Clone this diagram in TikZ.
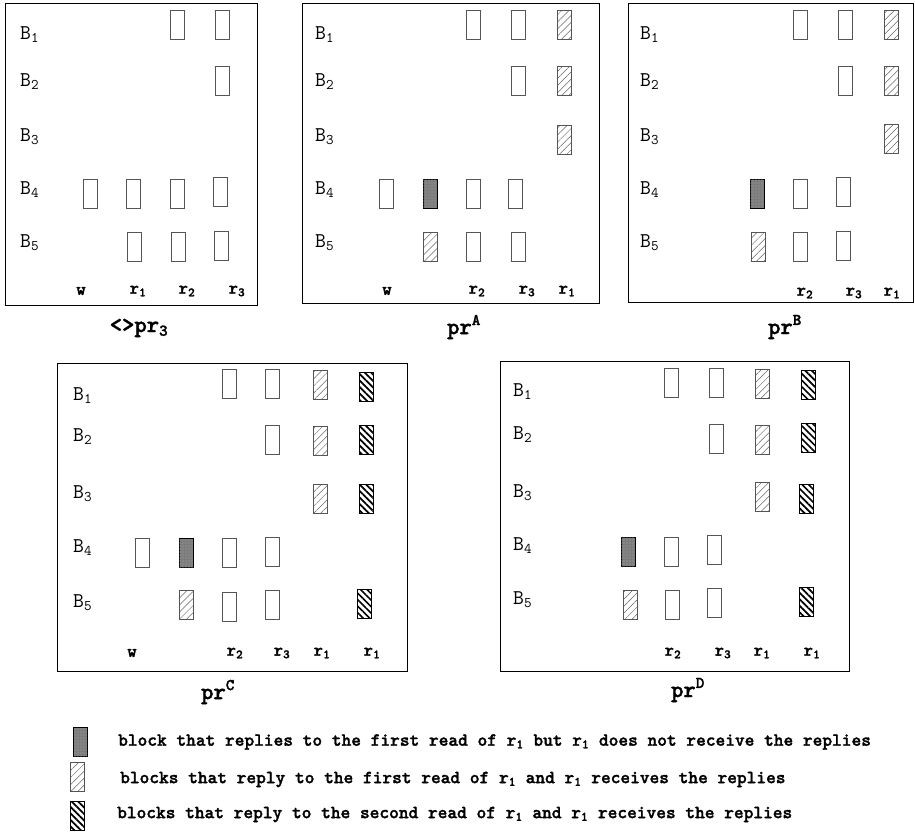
\documentclass[tikz,border=0pt]{standalone}
\usepackage{fontspec}
\usepackage{tikz}
\usetikzlibrary{patterns.meta}
\newfontfamily\heavymono{lmmonolt10-bold.otf}[FakeBold=1.6]
\newcommand\rowlabfont{\ttfamily\fontsize{21}{23}\selectfont}
\newcommand\collabfont{\heavymono\fontsize{18}{20}\selectfont}
\newcommand\ttlfont{\heavymono\fontsize{23.5}{26}\selectfont}
\newcommand\legfont{\heavymono\fontsize{18.5}{20}\selectfont}
\definecolor{blkline}{HTML}{555555}
\definecolor{lostfill}{HTML}{7C7C7C}
\definecolor{hatchgray}{HTML}{666666}
\tikzset{
  blk/.style={draw=blkline,line width=.9pt,minimum width=14pt,minimum height=29pt,inner sep=0pt,fill=white},
  lost/.style={blk,draw=black,fill=lostfill,
    postaction={pattern={Dots[distance=3pt,radius=.55pt]},pattern color=black!35}},
  firstrd/.style={blk,pattern={Lines[angle=45,distance=5pt,line width=.5pt]},pattern color=hatchgray},
  secondrd/.style={blk,draw=black,pattern={Lines[angle=-45,distance=4.6pt,line width=1.7pt]},pattern color=black},
  panel/.style={draw,line width=1.3pt,anchor=north west,inner sep=0pt},
  rowlab/.style={anchor=west,inner sep=0pt,font=\rowlabfont},
  collab/.style={inner sep=0pt,font=\collabfont},
  ttl/.style={inner sep=0pt,font=\ttlfont},
  legtext/.style={anchor=west,inner sep=0pt,font=\legfont},
}

\begin{document}
\begin{tikzpicture}[x=1pt,y=-1pt]
  \useasboundingbox (0,0) rectangle (915,834);

  % <>pr3
  \node[panel,minimum width=252pt,minimum height=302pt] (pz) at (5,3) {};
  \foreach \y [count=\k] in {35,82,137,190,243}
    \node[rowlab] (pz-B\k) at (20,\y) {B\textsubscript{\k}};
  \foreach \x/\y [count=\k] in {177/25,222/25,222/81,90/194,133/194,177/194,220/192,134/247,178/247,221/246}
    \node[blk] (pz-p\k) at (\x,\y) {};
  \node[collab] (pz-w) at (81,291) {w};
  \node[collab] (pz-r1) at (138,291) {r\textsubscript{1}};
  \node[collab] (pz-r2) at (187,291) {r\textsubscript{2}};
  \node[collab] (pz-r3) at (237,291) {r\textsubscript{3}};
  \node[ttl] (pz-t) at (139,328) {\textless\textgreater pr\textsubscript{3}};

  % prA
  \node[panel,minimum width=297pt,minimum height=300pt] (pa) at (302,3) {};
  \foreach \y [count=\k] in {35,82,137,190,243}
    \node[rowlab] (pa-B\k) at (315,\y) {B\textsubscript{\k}};
  \foreach \x/\y [count=\k] in {473/25,518/25,518/81,386/194,473/194,515/194,473/247,518/247}
    \node[blk] (pa-p\k) at (\x,\y) {};
  \node[lost] (pa-l1) at (430,194) {};
  \foreach \x/\y [count=\k] in {564/25,564/81,564/140,430/247}
    \node[firstrd] (pa-f\k) at (\x,\y) {};
  \node[collab] (pa-w) at (387,291) {w};
  \node[collab] (pa-r2) at (477,291) {r\textsubscript{2}};
  \node[collab] (pa-r3) at (527,291) {r\textsubscript{3}};
  \node[collab] (pa-r1) at (567,291) {r\textsubscript{1}};
  \node[ttl] (pa-t) at (464,327) {pr\textsuperscript{A}};

  % prB
  \node[panel,minimum width=285pt,minimum height=299pt] (pb) at (628,3) {};
  \foreach \y [count=\k] in {35,82,137,190,243}
    \node[rowlab] (pb-B\k) at (640,\y) {B\textsubscript{\k}};
  \foreach \x/\y [count=\k] in {800/25,845/25,845/81,800/194,843/192,800/247,843/246}
    \node[blk] (pb-p\k) at (\x,\y) {};
  \node[lost] (pb-l1) at (757,194) {};
  \foreach \x/\y [count=\k] in {891/25,891/81,891/139,758/247}
    \node[firstrd] (pb-f\k) at (\x,\y) {};
  \node[collab] (pb-r2) at (805,293) {r\textsubscript{2}};
  \node[collab] (pb-r3) at (854,293) {r\textsubscript{3}};
  \node[collab] (pb-r1) at (892,293) {r\textsubscript{1}};
  \node[ttl] (pb-t) at (785,327) {pr\textsuperscript{B}};

  % prC
  \node[panel,minimum width=350pt,minimum height=308pt] (pc) at (57,363) {};
  \foreach \y [count=\k] in {396,437,494,548,603}
    \node[rowlab] (pc-B\k) at (73,\y) {B\textsubscript{\k}};
  \foreach \x/\y [count=\k] in {229/384,272/384,272/440,142/553,229/553,272/552,229/607,272/605}
    \node[blk] (pc-p\k) at (\x,\y) {};
  \node[lost] (pc-l1) at (186,553) {};
  \foreach \x/\y [count=\k] in {320/385,320/441,320/499,186/605}
    \node[firstrd] (pc-f\k) at (\x,\y) {};
  \foreach \x/\y [count=\k] in {366/387,366/440,366/499,364/604}
    \node[secondrd] (pc-s\k) at (\x,\y) {};
  \node[collab] (pc-w) at (132,653) {w};
  \node[collab] (pc-r2) at (235,653) {r\textsubscript{2}};
  \node[collab] (pc-r3) at (282,653) {r\textsubscript{3}};
  \node[collab] (pc-r1a) at (322,653) {r\textsubscript{1}};
  \node[collab] (pc-r1b) at (372,653) {r\textsubscript{1}};
  \node[ttl] (pc-t) at (218,692) {pr\textsuperscript{C}};

  % prD
  \node[panel,minimum width=349pt,minimum height=310pt] (pd) at (500,361) {};
  \foreach \y [count=\k] in {392,435,493,546,600}
    \node[rowlab] (pd-B\k) at (513,\y) {B\textsubscript{\k}};
  \foreach \x/\y [count=\k] in {671/383,716/383,716/439,671/552,714/550,672/605,714/603}
    \node[blk] (pd-p\k) at (\x,\y) {};
  \node[lost] (pd-l1) at (628,552) {};
  \foreach \x/\y [count=\k] in {762/384,762/440,762/497,630/605}
    \node[firstrd] (pd-f\k) at (\x,\y) {};
  \foreach \x/\y [count=\k] in {808/385,808/438,806/499,806/602}
    \node[secondrd] (pd-s\k) at (\x,\y) {};
  \node[collab] (pd-r2) at (673,653) {r\textsubscript{2}};
  \node[collab] (pd-r3) at (723,653) {r\textsubscript{3}};
  \node[collab] (pd-r1a) at (762,653) {r\textsubscript{1}};
  \node[collab] (pd-r1b) at (812,653) {r\textsubscript{1}};
  \node[ttl] (pd-t) at (688,690) {pr\textsuperscript{D}};

  % legend
  \node[lost] (key-l) at (80,742) {};
  \node[firstrd] (key-f) at (77.5,777) {};
  \node[secondrd] (key-s) at (77.5,816) {};
  \node[legtext] (key-lt) at (118,742)
    {block that replies to the first read of r\textsubscript{1} but r\textsubscript{1} does not receive the replies};
  \node[legtext] (key-ft) at (120,779.5)
    {blocks that reply to the first read of r\textsubscript{1} and r\textsubscript{1} receives the replies};
  \node[legtext] (key-st) at (117,814.5)
    {blocks that reply to the second read of r\textsubscript{1} and r\textsubscript{1} receives the replies};
\end{tikzpicture}
\end{document}
